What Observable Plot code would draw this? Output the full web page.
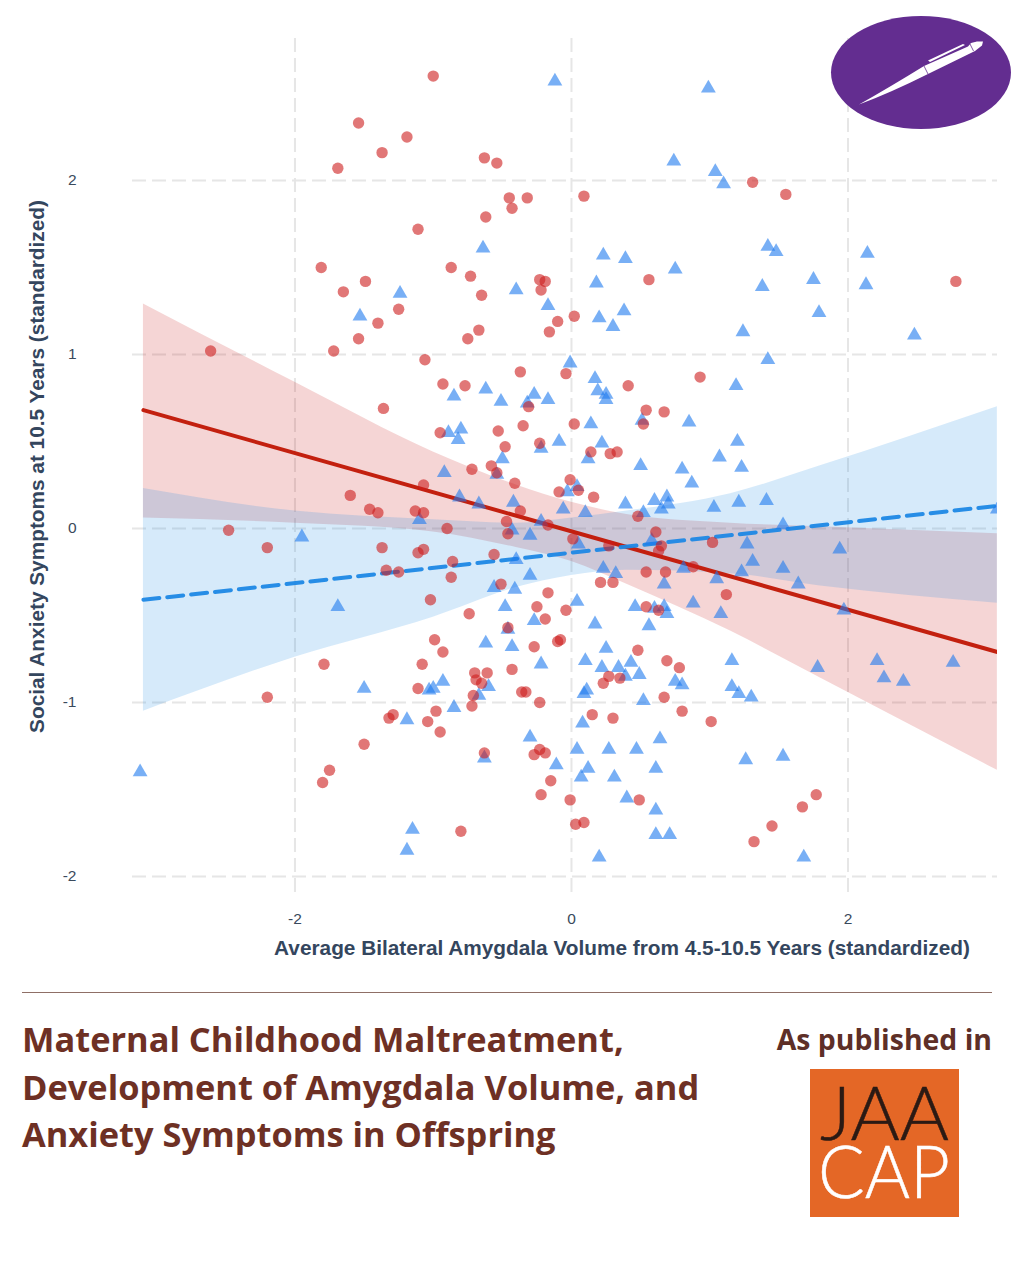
<!DOCTYPE html>
<html>
<head>
<meta charset="utf-8">
<script src="https://cdn.jsdelivr.net/npm/d3@7"></script>
<script src="https://cdn.jsdelivr.net/npm/@observablehq/plot@0.6"></script>
<style>
html,body{margin:0;padding:0;background:#fff;}
#page{position:relative;width:1024px;height:1280px;overflow:hidden;background:#fff;}
#chart{position:absolute;left:0;top:0;}
#chart svg{display:block;}
#rule{position:absolute;left:22px;top:992px;width:970px;height:1px;background:#8f6f66;}
#title{position:absolute;left:22px;top:1015px;font:700 34.4px/47.5px "Open Sans",sans-serif;color:#6e3024;white-space:nowrap;margin:0;}
#published{position:absolute;right:32px;top:1020px;font:700 28.4px/38px "Open Sans",sans-serif;color:#5e2f27;white-space:nowrap;}
#pen{position:absolute;left:0;top:0;}
#jaacap{position:absolute;left:810px;top:1069px;overflow:visible;}
</style>
</head>
<body>
<div id="page">
  <div id="chart"></div>
  <svg id="pen" width="1024" height="140" viewBox="0 0 1024 140">
    <ellipse cx="921" cy="72.5" rx="90" ry="56.5" fill="#632d90"/>
    <path d="M859 104.5 Q890 87 924 66 L968 46.5 L971 43 L977 41.5 L983 41.5 L982 45.5 L975 51 L928 74 Q890 93 859 104.5 Z" fill="#fff"/>
    <path d="M928 60.5 L963 44 L965 45 L930 62 Z" fill="#fff"/>
    <path d="M924 66 L928 74 M970 44 L973.5 51" stroke="#632d90" stroke-width="0.8" fill="none"/>
  </svg>
  <div id="rule"></div>
  <h1 id="title">Maternal Childhood Maltreatment,<br>Development of Amygdala Volume, and<br>Anxiety Symptoms in Offspring</h1>
  <div id="published">As published in</div>
  <svg id="jaacap" width="149" height="148" viewBox="0 0 149 148">
    <rect width="149" height="148" fill="#e46726"/>
    <text x="10" y="71" font-family="Lato, sans-serif" font-weight="300" font-size="74" fill="#2b1a14" stroke="#2b1a14" stroke-width="0.5" textLength="129" lengthAdjust="spacingAndGlyphs">JAA</text>
    <text x="8" y="129" font-family="Lato, sans-serif" font-weight="300" font-size="72" fill="#ffffff" stroke="#ffffff" stroke-width="0.5" textLength="132" lengthAdjust="spacingAndGlyphs">CAP</text>
  </svg>
</div>
<script>
const xTicks = [-2, 0, 2];
const yTicks = [-2, -1, 0, 1, 2];
const xLabel = "Average Bilateral Amygdala Volume from 4.5-10.5 Years (standardized)";
const yLabel = "Social Anxiety Symptoms at 10.5 Years (standardized)";

const redX = [-1.54,-1.19,-1.37,-1.69,-1.11,-1.81,-1.49,-1.65,-1.25,-1.40,-1.54,-1.00,-0.63,-0.54,-0.45,-0.32,-0.43,0.09,-0.62,-0.87,-0.73,-0.65,-0.23,-0.19,-0.22,0.56,0.02,-0.10,-0.16,-0.67,-0.75,1.31,1.55,2.78,-2.61,-1.72,-1.06,-1.36,-1.07,-1.60,-1.46,-1.40,-1.13,-1.07,-2.48,-2.20,-1.37,-1.11,-1.07,-1.34,-1.25,-1.02,-0.37,-0.04,-0.93,-0.77,0.41,0.93,-0.31,0.54,0.67,0.52,0.02,-0.35,-0.53,-0.95,-0.23,-0.48,0.14,0.28,0.33,-0.72,-0.58,-0.54,-0.41,-0.01,-0.09,0.05,0.16,-0.37,-0.47,0.48,-0.17,-0.46,-0.90,0.01,0.61,0.65,0.63,1.02,0.27,-0.56,-0.86,-0.87,0.54,0.68,0.88,0.21,0.30,-0.51,1.12,-0.17,-0.25,0.54,0.63,-0.04,-0.74,-0.19,-0.46,-0.99,-0.10,-0.08,-0.93,-0.27,0.48,0.69,0.78,-0.70,-0.61,-0.69,-0.65,-0.43,-0.71,-0.72,-0.98,-1.04,-0.95,-0.36,-0.33,-0.23,0.23,0.27,0.35,0.67,0.80,1.01,0.15,0.30,-0.63,-0.23,-0.27,-0.19,-0.15,-0.22,-0.01,0.49,0.09,0.03,-0.80,-1.79,-1.08,-1.11,-2.20,-1.29,-1.32,-1.50,-1.75,-1.80,1.77,1.67,1.45,1.32];
const redY = [2.33,2.25,2.16,2.07,1.72,1.50,1.42,1.36,1.26,1.18,1.09,2.60,2.13,2.10,1.90,1.90,1.84,1.91,1.79,1.50,1.45,1.34,1.43,1.42,1.37,1.43,1.22,1.19,1.13,1.14,1.09,1.99,1.92,1.42,1.02,1.02,0.97,0.69,0.25,0.19,0.11,0.09,0.10,0.09,-0.01,-0.11,-0.11,-0.14,-0.12,-0.24,-0.25,-0.41,0.90,0.89,0.83,0.82,0.82,0.87,0.70,0.68,0.67,0.60,0.60,0.59,0.56,0.55,0.49,0.47,0.44,0.43,0.44,0.34,0.36,0.32,0.26,0.28,0.21,0.22,0.18,0.10,0.04,0.07,0.02,-0.03,0.00,-0.06,-0.02,-0.10,-0.13,-0.08,-0.10,-0.15,-0.19,-0.28,-0.25,-0.25,-0.22,-0.31,-0.31,-0.32,-0.38,-0.37,-0.45,-0.45,-0.47,-0.47,-0.49,-0.52,-0.57,-0.64,-0.65,-0.64,-0.71,-0.68,-0.70,-0.76,-0.80,-0.83,-0.83,-0.87,-0.89,-0.81,-0.96,-1.02,-1.05,-1.11,-1.17,-0.94,-0.94,-1.00,-0.89,-0.85,-0.86,-0.97,-1.05,-1.11,-1.07,-1.09,-1.29,-1.27,-1.30,-1.29,-1.45,-1.53,-1.56,-1.56,-1.69,-1.70,-1.74,-0.78,-0.78,-0.92,-0.97,-1.07,-1.09,-1.24,-1.39,-1.46,-1.53,-1.60,-1.71,-1.80];

const blueX = [-1.24,-1.53,-0.12,0.99,0.74,1.04,1.10,-0.64,0.23,0.39,0.75,-0.40,0.18,-0.17,0.38,0.20,0.30,1.42,1.48,2.14,1.38,1.75,2.13,1.79,1.24,2.48,-0.01,0.17,-0.62,-0.85,-0.27,-0.17,-0.51,-0.32,0.19,0.25,0.25,0.51,0.85,0.14,-0.89,-0.80,-0.82,-0.09,-0.22,0.22,0.12,-0.50,1.07,0.50,0.80,-0.92,-0.54,0.87,-0.03,0.04,-0.81,-0.67,-0.42,0.60,0.69,0.70,0.39,1.03,0.65,-0.06,0.10,0.52,-0.22,-0.43,-0.30,0.58,0.05,-0.40,-0.30,0.23,0.32,0.81,1.05,0.67,-0.56,-0.41,0.04,-0.48,0.46,0.88,0.67,0.60,0.69,1.08,-0.27,0.17,0.56,-0.46,1.42,1.19,1.20,1.23,1.21,1.41,1.53,1.27,1.31,1.23,1.53,1.64,1.94,1.97,3.08,-1.50,-1.03,-1.19,-3.12,-1.15,-1.19,-0.62,-0.43,-0.22,0.25,0.10,0.22,0.34,0.43,0.49,0.39,0.75,0.80,1.16,1.16,1.21,1.30,-0.93,-1.00,-0.60,-0.67,-0.85,0.09,0.11,0.52,0.08,-0.30,0.64,0.04,0.27,0.47,-0.63,-0.11,0.12,0.61,0.07,0.31,0.40,0.61,0.61,0.71,0.20,1.78,2.21,2.26,2.40,2.76,1.26,1.53,1.68,-1.69,-1.95,-1.10];
const blueY = [1.35,1.22,2.57,2.53,2.11,2.05,1.98,1.61,1.57,1.55,1.49,1.37,1.41,1.28,1.25,1.21,1.16,1.62,1.59,1.58,1.39,1.43,1.40,1.24,1.13,1.11,0.95,0.86,0.80,0.76,0.77,0.74,0.73,0.72,0.79,0.77,0.74,0.62,0.61,0.60,0.55,0.57,0.51,0.50,0.46,0.49,0.40,0.40,0.41,0.36,0.34,0.32,0.31,0.26,0.21,0.24,0.18,0.14,0.15,0.16,0.18,0.14,0.14,0.12,0.11,0.11,0.09,0.09,0.04,-0.01,-0.04,-0.07,-0.09,-0.18,-0.27,-0.23,-0.26,-0.23,-0.29,-0.32,-0.34,-0.35,-0.42,-0.45,-0.45,-0.43,-0.45,-0.46,-0.49,-0.49,-0.53,-0.55,-0.56,-0.58,0.97,0.82,0.50,0.35,0.15,0.16,0.02,-0.09,-0.19,-0.25,-0.23,-0.32,-0.12,-0.47,0.11,-0.92,-0.93,-1.10,-1.40,-1.73,-1.85,-0.66,-0.68,-0.78,-0.69,-0.76,-0.80,-0.80,-0.77,-0.84,-0.85,-0.88,-0.90,-0.76,-0.91,-0.95,-0.97,-0.88,-0.92,-0.91,-0.96,-1.03,-0.95,-0.93,-0.99,-1.12,-1.20,-1.21,-1.27,-1.27,-1.27,-1.32,-1.36,-1.38,-1.38,-1.43,-1.43,-1.55,-1.62,-1.76,-1.76,-1.89,-0.80,-0.76,-0.86,-0.88,-0.77,-1.33,-1.31,-1.89,-0.45,-0.05,0.05];

const bandX = [-3.096,-2,-1,-0.4,0,0.4,1.15,1.8,3.08];
const redUpper = [1.29,0.84,0.44,0.25,0.15,0.08,0.03,0.01,-0.03];
const redLower = [0.06,0.03,-0.02,-0.11,-0.19,-0.32,-0.59,-0.86,-1.39];
const blueUpper = [0.23,0.10,0.05,0.03,0.06,0.10,0.20,0.36,0.70];
const blueLower = [-1.05,-0.74,-0.51,-0.34,-0.27,-0.24,-0.26,-0.33,-0.43];
const lineX = [-3.096, 3.08];
const redLine = [0.68, -0.71];
const blueLine = [-0.41, 0.13];

const gridColor = "#e6e6e6";
const axisColor = "#3a4a5c";
const labelColor = "#34465e";

const chart = Plot.plot({
  width: 1024,
  height: 985,
  marginLeft: 132,
  marginRight: 27,
  marginTop: 38,
  marginBottom: 88,
  style: {background: "transparent", fontFamily: "'Liberation Sans', Arial, sans-serif", overflow: "visible"},
  x: {domain: [-3.175, 3.081]},
  y: {domain: [-2.121, 2.816]},
  marks: [
    Plot.ruleY(yTicks, {stroke: gridColor, strokeWidth: 2, strokeDasharray: "14 6"}),
    Plot.ruleX(xTicks, {stroke: gridColor, strokeWidth: 2, strokeDasharray: "14 6"}),
    Plot.areaY(bandX, {x: bandX, y1: redLower, y2: redUpper, fill: "#c81e1e", fillOpacity: 0.19, curve: "monotone-x"}),
    Plot.areaY(bandX, {x: bandX, y1: blueLower, y2: blueUpper, fill: "#1e88e5", fillOpacity: 0.18, curve: "monotone-x"}),
    Plot.line(lineX, {x: lineX, y: redLine, stroke: "#c3200f", strokeWidth: 4, clip: true}),
    Plot.line(lineX, {x: lineX, y: blueLine, stroke: "#1e88e5", strokeWidth: 4, strokeDasharray: "16 8", strokeOpacity: 0.95, clip: true}),
    Plot.dot(blueX, {x: blueX, y: blueY, symbol: "triangle", r: 5.5, fill: "#1e7aee", fillOpacity: 0.6, stroke: "none", clip: true}),
    Plot.dot(redX, {x: redX, y: redY, symbol: "circle", r: 5.7, fill: "#cd1d1d", fillOpacity: 0.6, stroke: "none", clip: true}),
    Plot.axisX({ticks: xTicks, tickSize: 0, tickPadding: 15, label: null, fontSize: 15.5, color: axisColor, tickFormat: d => String(d)}),
    Plot.axisY({ticks: yTicks, tickSize: 0, tickPadding: 56, label: null, fontSize: 15.5, color: axisColor, tickFormat: d => String(d)}),
    Plot.text([xLabel], {frameAnchor: "bottom", dx: 57, dy: 57, fontSize: 20.8, fontWeight: 700, fill: labelColor}),
    Plot.text([yLabel], {frameAnchor: "left", textAnchor: "middle", rotate: -90, dx: -95, dy: -1.5, fontSize: 20.8, fontWeight: 700, fill: labelColor})
  ]
});
document.getElementById("chart").appendChild(chart);
</script>
</body>
</html>
